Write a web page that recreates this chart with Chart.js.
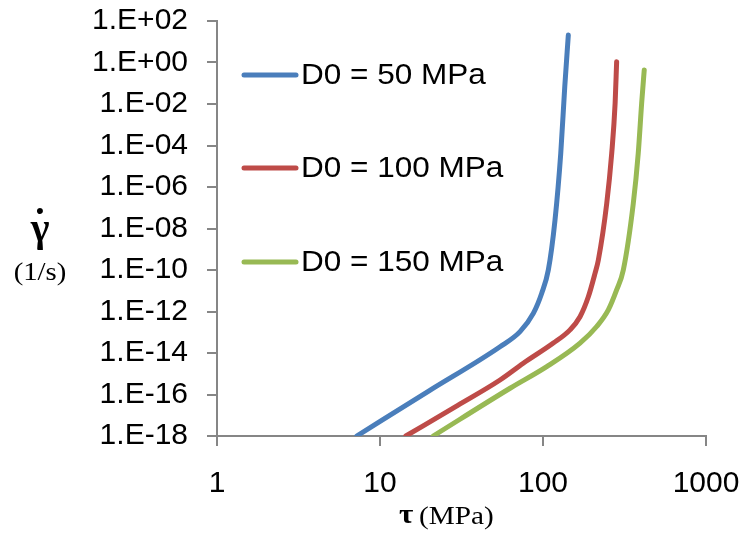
<!DOCTYPE html>
<html>
<head>
<meta charset="utf-8">
<script src="https://cdn.jsdelivr.net/npm/chart.js@4/dist/chart.umd.min.js"></script>
<style>
  html, body { margin: 0; padding: 0; background: #fff; }
  #wrap { width: 743px; height: 535px; position: relative; }
</style>
</head>
<body>
<div id="wrap"><canvas id="c" width="743" height="535"></canvas></div>
<script>
// ---- data ----
const seriesLabels = ["D0 = 50 MPa", "D0 = 100 MPa", "D0 = 150 MPa"];
const seriesColors = ["#4A7EBB", "#BE4B48", "#98B954"];

const tau50   = [7.2, 20, 54.5, 72.3, 87.2, 98.2, 107.8, 118.5, 128.5, 136, 143];
const gamma50 = [1e-18, 1.5e-16, 2.0e-14, 1.07e-13, 8.1e-13, 7.6e-12, 1e-10, 2.6e-8, 4.2e-5, 6.8e-2, 21];

const tau100   = [14.4, 30, 54.5, 75.7, 115.7, 146.5, 168.7, 189.7, 208.5, 218.5, 246, 264, 277, 283];
const gamma100 = [1e-18, 3e-17, 5e-16, 3.2e-15, 3.0e-14, 1.3e-13, 5.6e-13, 5.1e-12, 6.9e-11, 3e-10, 1.6e-7, 4.2e-5, 1.1e-2, 1.1];

const tau150   = [21.2, 62.8, 105.4, 168.7, 213.5, 251.6, 283, 311, 358, 384, 403, 418];
const gamma150 = [1e-18, 2.0e-16, 2.2e-15, 3.0e-14, 1.9e-13, 1.2e-12, 1.1e-11, 1e-10, 1.6e-7, 4.2e-5, 1.1e-2, 0.44];

const xTickValues = [1, 10, 100, 1000];
const xTickLabels = ["1", "10", "100", "1000"];
const yTickValues = [1e2, 1e0, 1e-2, 1e-4, 1e-6, 1e-8, 1e-10, 1e-12, 1e-14, 1e-16, 1e-18];
const yTickLabels = ["1.E+02", "1.E+00", "1.E-02", "1.E-04", "1.E-06", "1.E-08", "1.E-10", "1.E-12", "1.E-14", "1.E-16", "1.E-18"];

const xTitleSymbol = "τ";
const xTitleUnit = "(MPa)";
const yTitleSymbol = "γ";
const yTitleAccent = "˙";
const yTitleUnit = "(1/s)";

// ---- build ----
const allTau = [tau50, tau100, tau150];
const allGamma = [gamma50, gamma100, gamma150];
const datasets = seriesLabels.map((lab, i) => ({
  label: lab,
  data: allTau[i].map((t, j) => ({ x: t, y: allGamma[i][j] })),
  borderColor: seriesColors[i],
  backgroundColor: seriesColors[i],
  borderWidth: 5,
  pointRadius: 0,
  cubicInterpolationMode: 'monotone',
  borderCapStyle: 'round',
  borderJoinStyle: 'round',
  fill: false
}));

const AXIS = '#868686';
const tickFont = { family: "'Liberation Sans', Arial, sans-serif", size: 30 };
const SERIF = "'Liberation Serif', 'Times New Roman', serif";

function stretchedText(ctx, txt, x, y, sx) {
  ctx.save();
  ctx.translate(x, y);
  ctx.scale(sx, 1);
  ctx.fillText(txt, 0, 0);
  ctx.restore();
}

const customDecor = {
  id: 'customDecor',
  afterDraw(chart) {
    const ctx = chart.ctx;
    ctx.save();
    // legend
    const rows = [75, 168, 262];
    chart.data.datasets.forEach((ds, i) => {
      const y = rows[i];
      ctx.strokeStyle = ds.borderColor;
      ctx.lineWidth = 5;
      ctx.lineCap = 'round';
      ctx.beginPath();
      ctx.moveTo(244, y);
      ctx.lineTo(296, y);
      ctx.stroke();
      ctx.fillStyle = '#000';
      ctx.font = "30px 'Liberation Sans', Arial, sans-serif";
      ctx.textAlign = 'left';
      ctx.textBaseline = 'middle';
      stretchedText(ctx, ds.label, 301, y + 1, 1.05);
    });
    // axis titles
    ctx.fillStyle = '#000';
    ctx.textBaseline = 'alphabetic';
    ctx.textAlign = 'left';
    ctx.font = "bold 27px " + SERIF;
    stretchedText(ctx, xTitleSymbol, 399, 523, 1.15);
    ctx.font = "25px " + SERIF;
    stretchedText(ctx, xTitleUnit, 419, 524, 1.17);
    ctx.textAlign = 'center';
    ctx.font = "bold 40px " + SERIF;
    ctx.fillText(yTitleSymbol, 40, 241);
    ctx.fillText(yTitleAccent, 40, 236);
    ctx.font = "25px " + SERIF;
    stretchedText(ctx, yTitleUnit, 40, 280, 1.15);
    ctx.restore();
  }
};

new Chart(document.getElementById('c'), {
  type: 'line',
  data: { datasets },
  options: {
    responsive: false,
    animation: false,
    devicePixelRatio: 1,
    layout: { padding: { top: 21, right: 37, left: 0, bottom: 0 } },
    plugins: { legend: { display: false }, tooltip: { enabled: false } },
    scales: {
      x: {
        type: 'logarithmic',
        min: 1, max: 1000,
        afterBuildTicks: (s) => { s.ticks = xTickValues.map(v => ({ value: v })); },
        afterFit: (s) => { s.height = 99; s.paddingLeft = 0; s.paddingRight = 0; },
        ticks: {
          autoSkip: false, maxRotation: 0,
          color: '#000', font: tickFont, padding: 20,
          callback: (v, i) => xTickLabels[i]
        },
        grid: { drawOnChartArea: false, drawTicks: true, tickLength: 10, color: AXIS, lineWidth: 2 },
        border: { display: true, color: AXIS, width: 2 }
      },
      y: {
        type: 'logarithmic',
        min: 1e-18, max: 1e2,
        afterBuildTicks: (s) => { s.ticks = yTickValues.slice().reverse().map(v => ({ value: v })); },
        afterFit: (s) => { s.width = 217; s.paddingTop = 0; s.paddingBottom = 0; },
        ticks: {
          autoSkip: false,
          color: '#000', font: tickFont, padding: 19,
          callback: (v, i) => yTickLabels[yTickValues.length - 1 - i]
        },
        grid: { drawOnChartArea: false, drawTicks: true, tickLength: 10, color: AXIS, lineWidth: 2 },
        border: { display: true, color: AXIS, width: 2 }
      }
    }
  },
  plugins: [customDecor]
});
</script>
</body>
</html>
